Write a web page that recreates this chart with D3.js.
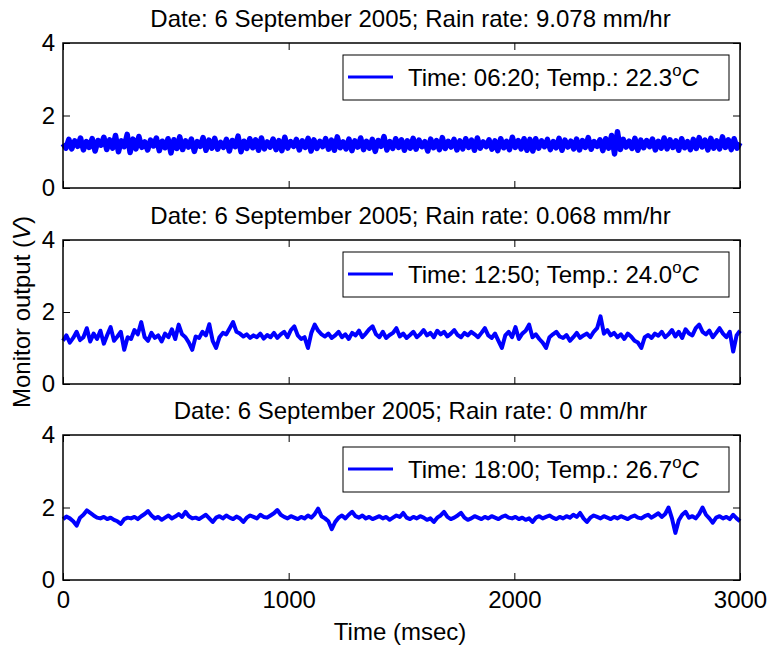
<!DOCTYPE html>
<html>
<head>
<meta charset="utf-8">
<script src="https://cdn.jsdelivr.net/npm/d3@7"></script>
<style>
body { margin: 0; background: #fff; }
text { font-family: "Liberation Sans", Arial, sans-serif; }
</style>
</head>
<body>
<svg id="chart" width="769" height="650"></svg>
<script>
// tick values
const xTicks = [0, 1000, 2000, 3000];
const yTicks = [0, 2, 4];

// panel texts
const rainRates = ["9.078", "0.068", "0"];
const legendTimes = ["06:20", "12:50", "18:00"];
const legendTemps = ["22.3", "24.0", "26.7"];

const signal1 = [
1.22,1.10,1.34,1.08,1.30,1.15,1.38,1.05,1.28,1.12,1.36,1.02,1.31,1.18,1.40,1.06,1.33,1.10,1.45,1.00,
1.30,1.14,1.48,0.98,1.35,1.08,1.42,1.12,1.27,1.05,1.32,1.16,1.38,1.03,1.29,1.11,1.36,0.97,1.33,1.09,
1.41,1.06,1.30,1.13,1.35,1.01,1.28,1.15,1.39,1.04,1.32,1.10,1.37,1.07,1.26,1.12,1.34,1.02,1.31,1.14,
1.43,1.00,1.29,1.09,1.36,1.11,1.33,1.04,1.38,1.08,1.27,1.13,1.35,1.06,1.31,1.03,1.40,1.10,1.28,1.15,
1.34,1.05,1.30,1.12,1.37,1.02,1.33,1.09,1.29,1.14,1.36,1.07,1.32,1.04,1.41,1.11,1.27,1.08,1.35,1.03,
1.30,1.13,1.38,1.06,1.29,1.10,1.34,1.01,1.31,1.15,1.42,1.05,1.28,1.09,1.36,1.12,1.33,1.04,1.30,1.10,
1.37,1.07,1.32,1.14,1.28,1.02,1.35,1.11,1.31,1.06,1.39,1.09,1.29,1.13,1.34,1.05,1.30,1.08,1.36,1.12,
1.32,1.04,1.38,1.10,1.27,1.14,1.33,1.07,1.30,1.03,1.36,1.11,1.29,1.06,1.40,1.12,1.31,1.08,1.36,1.04,
1.34,1.02,1.36,1.10,1.30,1.14,1.34,1.06,1.28,1.11,1.37,1.04,1.32,1.13,1.29,1.08,1.35,1.05,1.31,1.12,
1.39,1.07,1.28,1.15,1.33,1.03,1.36,1.10,1.45,0.94,1.55,1.06,1.34,1.13,1.29,1.09,1.37,1.04,1.32,1.11,
1.31,1.14,1.35,1.05,1.29,1.10,1.38,1.08,1.33,1.12,1.30,1.04,1.36,1.11,1.28,1.06,1.34,1.09,1.39,1.13,
1.32,1.05,1.37,1.10,1.30,1.08,1.41,1.12,1.33,1.06,1.36,1.10,1.25
];
const signal2 = [
1.20,1.35,1.15,1.28,1.45,1.22,1.30,1.55,1.18,1.40,1.25,1.48,1.12,1.36,1.58,1.20,1.32,1.45,0.95,1.30,
1.25,1.50,1.38,1.72,1.30,1.20,1.42,1.28,1.35,1.18,1.40,1.30,1.52,1.25,1.65,1.38,1.30,1.15,0.95,1.32,
1.28,1.45,1.35,1.66,1.20,1.00,1.30,1.42,1.38,1.55,1.72,1.45,1.40,1.32,1.38,1.28,1.35,1.30,1.40,1.26,
1.36,1.30,1.42,1.28,1.38,1.45,1.30,1.50,1.60,1.35,1.25,1.30,1.00,1.42,1.65,1.48,1.38,1.32,1.40,1.28,
1.35,1.45,1.30,1.38,1.25,1.42,1.35,1.48,1.30,1.40,1.52,1.60,1.38,1.30,1.45,1.28,1.36,1.42,1.55,1.32,
1.40,1.28,1.36,1.45,1.30,1.38,1.50,1.35,1.42,1.30,1.48,1.38,1.45,1.32,1.40,1.50,1.36,1.30,1.42,1.35,
1.45,1.38,1.30,1.42,1.55,1.35,1.28,1.40,1.20,1.00,1.35,1.45,1.30,1.58,1.25,1.40,1.48,1.65,1.30,1.38,
1.25,1.15,1.00,1.30,1.38,1.45,1.32,1.28,1.36,1.20,1.30,1.42,1.28,1.35,1.40,1.30,1.45,1.55,1.88,1.40,
1.50,1.35,1.42,1.30,1.38,1.25,1.40,1.32,1.20,1.15,1.00,1.30,1.36,1.28,1.40,1.34,1.45,1.30,1.38,1.50,
1.32,1.45,1.28,1.52,1.40,1.35,1.55,1.65,1.45,1.38,1.48,1.30,1.42,1.55,1.40,1.30,1.45,0.90,1.35,1.48
];
const signal3 = [
1.68,1.75,1.70,1.62,1.50,1.72,1.80,1.92,1.85,1.78,1.72,1.70,1.74,1.68,1.72,1.66,1.62,1.55,1.68,1.72,
1.70,1.74,1.68,1.76,1.82,1.90,1.78,1.70,1.74,1.66,1.72,1.78,1.70,1.75,1.82,1.74,1.88,1.76,1.70,1.72,
1.68,1.74,1.80,1.70,1.60,1.72,1.76,1.70,1.78,1.72,1.68,1.75,1.70,1.60,1.72,1.78,1.74,1.70,1.80,1.74,
1.72,1.78,1.84,1.93,1.80,1.74,1.70,1.76,1.72,1.68,1.74,1.70,1.78,1.72,1.82,1.97,1.76,1.70,1.62,1.40,
1.60,1.72,1.78,1.70,1.80,1.88,1.76,1.72,1.78,1.70,1.74,1.68,1.72,1.76,1.70,1.74,1.66,1.72,1.78,1.74,
1.85,1.72,1.68,1.74,1.70,1.76,1.72,1.66,1.70,1.60,1.72,1.78,1.88,1.74,1.68,1.72,1.78,1.85,1.72,1.66,
1.70,1.76,1.72,1.68,1.74,1.70,1.76,1.72,1.68,1.74,1.78,1.72,1.70,1.74,1.68,1.72,1.66,1.70,1.60,1.72,
1.76,1.70,1.74,1.78,1.72,1.68,1.74,1.70,1.76,1.72,1.80,1.74,1.85,1.70,1.60,1.72,1.78,1.74,1.70,1.76,
1.72,1.68,1.74,1.70,1.76,1.72,1.68,1.74,1.78,1.72,1.70,1.76,1.80,1.72,1.78,1.84,1.74,1.82,2.00,1.70,
1.30,1.65,1.80,1.88,1.72,1.76,1.70,1.82,2.00,1.80,1.70,1.58,1.72,1.76,1.70,1.74,1.68,1.80,1.70,1.62
];
const signals = [signal1, signal2, signal3];

let chart = d3.select("#chart");
const fs = 24;
const left = 63, right = 740;
const panels = [{top: 43, bottom: 188}, {top: 240, bottom: 384}, {top: 435, bottom: 580}];
const widths = [5.5, 4, 4];

// shared x scale
let x = d3.scaleLinear().domain([0, 3000]).range([left, right]);

panels.forEach(function (p, k) {
    let y = d3.scaleLinear().domain([0, 4]).range([p.bottom, p.top]);
    let g = chart.append("g");

    // inward ticks on all four sides, like matlab
    let bottomAxis = d3.axisBottom(x).tickValues(xTicks).tickSizeInner(-7).tickSizeOuter(0)
        .tickPadding(11).tickFormat(d3.format("d"));
    if (k < 2) bottomAxis.tickFormat("");
    g.append("g").attr("transform", "translate(0," + p.bottom + ")").call(bottomAxis);
    g.append("g").attr("transform", "translate(0," + p.top + ")")
        .call(d3.axisTop(x).tickValues(xTicks).tickSizeInner(-7).tickSizeOuter(0).tickFormat(""));
    g.append("g").attr("transform", "translate(" + left + ",0)")
        .call(d3.axisLeft(y).tickValues(yTicks).tickSizeInner(-7).tickSizeOuter(0)
            .tickPadding(8).tickFormat(d3.format("d")));
    g.append("g").attr("transform", "translate(" + right + ",0)")
        .call(d3.axisRight(y).tickValues(yTicks).tickSizeInner(-7).tickSizeOuter(0).tickFormat(""));
    g.selectAll(".domain").remove();
    g.selectAll(".tick line").attr("stroke", "#000").attr("stroke-width", 1);
    g.selectAll(".tick text").attr("font-size", fs).attr("font-family", "Liberation Sans, Arial, sans-serif").attr("fill", "#000");

    // signal
    let sig = signals[k];
    let line = d3.line()
        .x(function (d, i) { return x(i * 3000 / (sig.length - 1)); })
        .y(function (d) { return y(d); });
    g.append("path")
        .datum(sig)
        .attr("d", line)
        .attr("fill", "none")
        .attr("stroke", "#0000ff")
        .attr("stroke-width", widths[k])
        .attr("stroke-linejoin", "round");

    // frame
    g.append("rect")
        .attr("x", left).attr("y", p.top)
        .attr("width", right - left).attr("height", p.bottom - p.top)
        .attr("fill", "none").attr("stroke", "#000").attr("stroke-width", 1.5);

    // title
    g.append("text")
        .text("Date: 6 September 2005; Rain rate: " + rainRates[k] + " mm/hr")
        .attr("x", (left + right) / 2 + 9)
        .attr("y", p.top - 16)
        .attr("text-anchor", "middle")
        .attr("font-size", fs);

    // legend
    let ly = p.top + 12;
    g.append("rect")
        .attr("x", 343).attr("y", ly)
        .attr("width", 386).attr("height", 45)
        .attr("fill", "#fff").attr("stroke", "#000").attr("stroke-width", 1);
    g.append("line")
        .attr("x1", 348).attr("x2", 393)
        .attr("y1", ly + 22).attr("y2", ly + 22)
        .attr("stroke", "#0000ff").attr("stroke-width", 3);
    let t = g.append("text")
        .attr("x", 408).attr("y", ly + 31)
        .attr("font-size", fs);
    t.append("tspan").text("Time: " + legendTimes[k] + "; Temp.: " + legendTemps[k]);
    t.append("tspan").text("o").attr("font-size", fs * 0.7).attr("dy", -10);
    t.append("tspan").text("C").attr("font-style", "italic").attr("dy", 10);
});

// x axis label
chart.append("text")
    .text("Time (msec)")
    .attr("x", 400).attr("y", 640)
    .attr("text-anchor", "middle")
    .attr("font-size", fs);

// y axis label
let yl = chart.append("text")
    .attr("transform", "translate(30,312) rotate(-90)")
    .attr("text-anchor", "middle")
    .attr("font-size", fs);
yl.append("tspan").text("Monitor output (");
yl.append("tspan").text("V").attr("font-style", "italic");
yl.append("tspan").text(")");
</script>
</body>
</html>
